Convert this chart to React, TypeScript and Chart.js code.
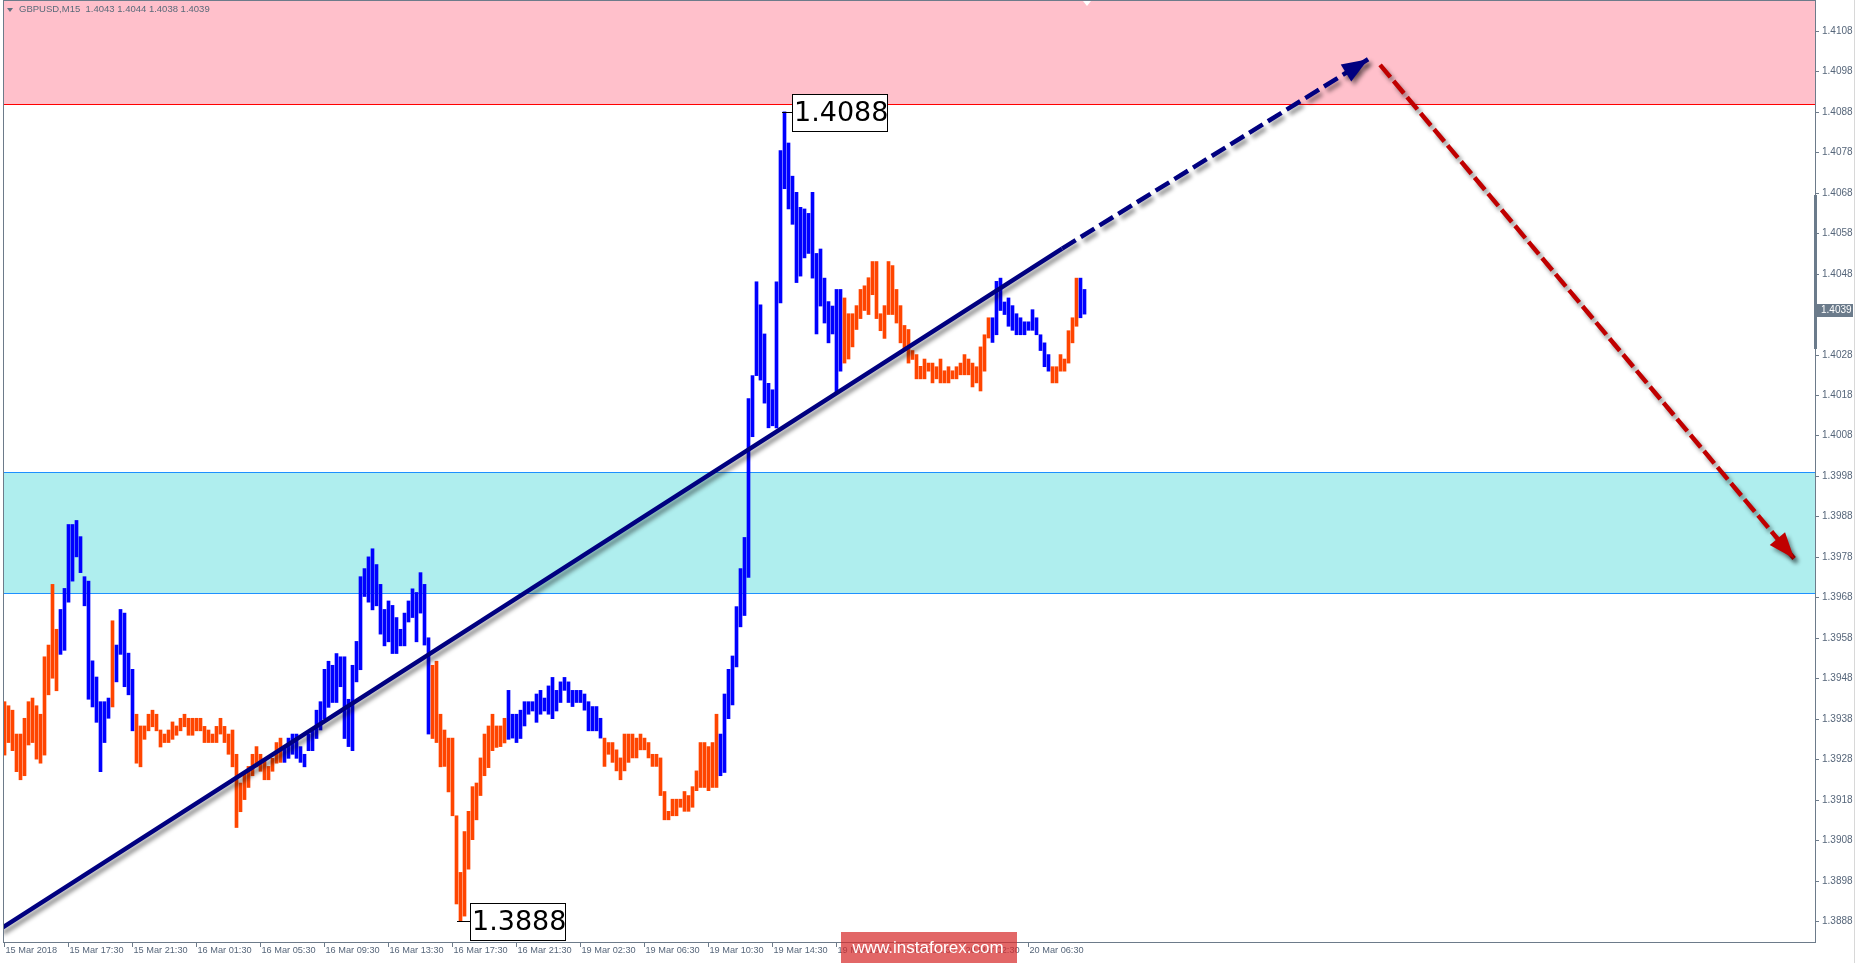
import React, { useEffect, useRef } from 'react';
import { Chart, registerables } from 'chart.js';

Chart.register(...registerables);

const W = 1857;
const H = 963;

const chartTitle = 'GBPUSD,M15  1.4043 1.4044 1.4038 1.4039';
const lastPrice = 1.4039;
const lastPriceLabel = '1.4039';
const watermark = 'www.instaforex.com';

// M15 bar lows / highs (bar index 0..270)
const lows = [
  1.39290, 1.39321, 1.39301, 1.39249, 1.39229, 1.39239, 1.39315, 1.39321, 1.39280, 1.39270,
  1.39290, 1.39439, 1.39480, 1.39449, 1.39539, 1.39549, 1.39668, 1.39720, 1.39780, 1.39741,
  1.39659, 1.39428, 1.39409, 1.39371, 1.39249, 1.39321, 1.39381, 1.39409, 1.39471, 1.39539,
  1.39459, 1.39439, 1.39350, 1.39270, 1.39261, 1.39329, 1.39350, 1.39360, 1.39350, 1.39310,
  1.39321, 1.39321, 1.39329, 1.39339, 1.39350, 1.39360, 1.39339, 1.39339, 1.39350, 1.39350,
  1.39321, 1.39321, 1.39321, 1.39321, 1.39342, 1.39321, 1.39292, 1.39261, 1.39111, 1.39150,
  1.39180, 1.39210, 1.39239, 1.39261, 1.39250, 1.39229, 1.39229, 1.39250, 1.39270, 1.39272,
  1.39272, 1.39282, 1.39292, 1.39282, 1.39272, 1.39261, 1.39301, 1.39301, 1.39331, 1.39352,
  1.39379, 1.39408, 1.39420, 1.39420, 1.39459, 1.39331, 1.39311, 1.39301, 1.39471, 1.39501,
  1.39682, 1.39668, 1.39649, 1.39659, 1.39589, 1.39560, 1.39570, 1.39541, 1.39541, 1.39560,
  1.39560, 1.39619, 1.39630, 1.39570, 1.39641, 1.39562, 1.39342, 1.39331, 1.39321, 1.39261,
  1.39262, 1.39199, 1.39140, 1.38922, 1.38880, 1.38892, 1.39008, 1.39081, 1.39130, 1.39190,
  1.39239, 1.39259, 1.39301, 1.39309, 1.39311, 1.39320, 1.39329, 1.39332, 1.39321, 1.39331,
  1.39362, 1.39391, 1.39399, 1.39371, 1.39391, 1.39399, 1.39391, 1.39380, 1.39399, 1.39420,
  1.39450, 1.39420, 1.39410, 1.39420, 1.39420, 1.39401, 1.39350, 1.39350, 1.39350, 1.39332,
  1.39262, 1.39292, 1.39272, 1.39251, 1.39229, 1.39251, 1.39272, 1.39283, 1.39283, 1.39303,
  1.39303, 1.39283, 1.39262, 1.39262, 1.39190, 1.39130, 1.39130, 1.39140, 1.39140, 1.39161,
  1.39151, 1.39151, 1.39161, 1.39202, 1.39210, 1.39210, 1.39202, 1.39210, 1.39210, 1.39239,
  1.39247, 1.39380, 1.39414, 1.39508, 1.39607, 1.39635, 1.39729, 1.40077, 1.40228, 1.40217,
  1.40160, 1.40099, 1.40104, 1.40099, 1.40408, 1.40690, 1.40640, 1.40602, 1.40458, 1.40474,
  1.40519, 1.40530, 1.40469, 1.40331, 1.40400, 1.40358, 1.40309, 1.40331, 1.40185, 1.40239,
  1.40259, 1.40269, 1.40299, 1.40342, 1.40369, 1.40389, 1.40379, 1.40428, 1.40369, 1.40339,
  1.40320, 1.40379, 1.40379, 1.40358, 1.40309, 1.40291, 1.40259, 1.40268, 1.40220, 1.40220,
  1.40220, 1.40239, 1.40210, 1.40220, 1.40210, 1.40210, 1.40210, 1.40220, 1.40220, 1.40230,
  1.40230, 1.40230, 1.40200, 1.40210, 1.40190, 1.40239, 1.40321, 1.40310, 1.40329, 1.40389,
  1.40379, 1.40350, 1.40340, 1.40329, 1.40329, 1.40329, 1.40340, 1.40340, 1.40329, 1.40290,
  1.40250, 1.40239, 1.40210, 1.40210, 1.40239, 1.40239, 1.40259, 1.40309, 1.40350, 1.40371,
  1.40380,
];

const highs = [
  1.39422, 1.39412, 1.39401, 1.39342, 1.39342, 1.39381, 1.39422, 1.39431, 1.39412, 1.39391,
  1.39533, 1.39562, 1.39712, 1.39601, 1.39650, 1.39702, 1.39860, 1.39860, 1.39870, 1.39830,
  1.39731, 1.39720, 1.39523, 1.39483, 1.39422, 1.39422, 1.39431, 1.39622, 1.39562, 1.39650,
  1.39641, 1.39542, 1.39502, 1.39391, 1.39362, 1.39362, 1.39391, 1.39401, 1.39391, 1.39352,
  1.39342, 1.39352, 1.39372, 1.39362, 1.39381, 1.39391, 1.39381, 1.39381, 1.39381, 1.39381,
  1.39361, 1.39352, 1.39342, 1.39361, 1.39381, 1.39361, 1.39342, 1.39352, 1.39292, 1.39221,
  1.39243, 1.39262, 1.39292, 1.39311, 1.39292, 1.39282, 1.39262, 1.39282, 1.39321, 1.39332,
  1.39311, 1.39332, 1.39342, 1.39342, 1.39311, 1.39292, 1.39342, 1.39352, 1.39401, 1.39422,
  1.39502, 1.39522, 1.39512, 1.39541, 1.39533, 1.39533, 1.39428, 1.39512, 1.39571, 1.39731,
  1.39751, 1.39780, 1.39800, 1.39761, 1.39712, 1.39650, 1.39671, 1.39660, 1.39630, 1.39601,
  1.39641, 1.39671, 1.39701, 1.39692, 1.39741, 1.39712, 1.39580, 1.39512, 1.39522, 1.39391,
  1.39352, 1.39332, 1.39332, 1.39140, 1.39000, 1.39101, 1.39151, 1.39212, 1.39221, 1.39283,
  1.39342, 1.39362, 1.39391, 1.39362, 1.39362, 1.39381, 1.39450, 1.39391, 1.39391, 1.39401,
  1.39422, 1.39422, 1.39422, 1.39441, 1.39450, 1.39431, 1.39461, 1.39482, 1.39450, 1.39471,
  1.39482, 1.39471, 1.39450, 1.39450, 1.39450, 1.39441, 1.39422, 1.39410, 1.39410, 1.39381,
  1.39332, 1.39321, 1.39321, 1.39303, 1.39283, 1.39342, 1.39342, 1.39342, 1.39332, 1.39342,
  1.39332, 1.39321, 1.39292, 1.39292, 1.39283, 1.39200, 1.39151, 1.39181, 1.39181, 1.39181,
  1.39200, 1.39190, 1.39212, 1.39251, 1.39321, 1.39321, 1.39311, 1.39321, 1.39391, 1.39342,
  1.39441, 1.39502, 1.39535, 1.39657, 1.39751, 1.39828, 1.40171, 1.40228, 1.40460, 1.40403,
  1.40331, 1.40209, 1.40193, 1.40460, 1.40784, 1.40880, 1.40803, 1.40721, 1.40681, 1.40644,
  1.40640, 1.40629, 1.40681, 1.40530, 1.40541, 1.40469, 1.40411, 1.40400, 1.40441, 1.40441,
  1.40420, 1.40381, 1.40381, 1.40401, 1.40441, 1.40450, 1.40470, 1.40510, 1.40510, 1.40381,
  1.40401, 1.40510, 1.40500, 1.40441, 1.40401, 1.40352, 1.40342, 1.40290, 1.40280, 1.40251,
  1.40269, 1.40259, 1.40259, 1.40250, 1.40269, 1.40240, 1.40250, 1.40240, 1.40250, 1.40259,
  1.40280, 1.40269, 1.40259, 1.40250, 1.40299, 1.40329, 1.40371, 1.40371, 1.40461, 1.40469,
  1.40410, 1.40420, 1.40401, 1.40381, 1.40371, 1.40361, 1.40361, 1.40391, 1.40371, 1.40329,
  1.40309, 1.40280, 1.40250, 1.40250, 1.40280, 1.40269, 1.40339, 1.40371, 1.40469, 1.40469,
  1.40441,
];

// u = blue wave bar, d = orange wave bar
const barSide = [
  'dddddddddd', 'dddduuuuuu', 'uuuuuuuduu', 'uuuddddddd', 'dddddddddd',
  'dddddddddd', 'dddddddddd', 'uuuuuuuuuu', 'uuuuuuuuuu', 'uuuuuuuuuu',
  'uuuuuuuddd', 'dddddddddd', 'dddddduuuu', 'uuuuuuuuuu', 'uuuuuuuuuu',
  'dddddddddd', 'dddddddddd', 'dddddddddu', 'uuuuuuuuuu', 'uuuuuuuuuu',
  'uuuuuuuuuu', 'dddddddddd', 'dddddddddd', 'dddddddddd', 'ddddddduuu',
  'uuuuuuuuuu', 'uuddddddduu',
].join('');

const timeLabels = [
  '15 Mar 2018', '15 Mar 17:30', '15 Mar 21:30', '16 Mar 01:30', '16 Mar 05:30',
  '16 Mar 09:30', '16 Mar 13:30', '16 Mar 17:30', '16 Mar 21:30', '19 Mar 02:30',
  '19 Mar 06:30', '19 Mar 10:30', '19 Mar 14:30', '19 Mar 18:30', '19 Mar 22:30',
  '20 Mar 02:30', '20 Mar 06:30',
];
const timeLabelBars = [0, 16, 32, 48, 64, 80, 96, 112, 128, 144, 160, 176, 192, 208, 224, 240, 256];

const priceTicks = [
  1.3888, 1.3898, 1.3908, 1.3918, 1.3928, 1.3938, 1.3948, 1.3958, 1.3968, 1.3978,
  1.3988, 1.3998, 1.4008, 1.4018, 1.4028, 1.4038, 1.4048, 1.4058, 1.4068, 1.4078,
  1.4088, 1.4098, 1.4108,
];
const priceTickLabels = [
  '1.3888', '1.3898', '1.3908', '1.3918', '1.3928', '1.3938', '1.3948', '1.3958', '1.3968', '1.3978',
  '1.3988', '1.3998', '1.4008', '1.4018', '1.4028', '1.4038', '1.4048', '1.4058', '1.4068', '1.4078',
  '1.4088', '1.4098', '1.4108',
];

const resistanceZone = [1.4090, 1.4116];
const supportZone = [1.3969, 1.3999];

// wave trend line (bar index, price)
const trendSolidX = [-1.1, 264.4];
const trendSolidY = [1.38860, 1.40542];
const trendDashX = [264.4, 340.9];
const trendDashY = [1.40542, 1.41010];
// forecast arrow
const forecastX = [343.9, 447.4];
const forecastY = [1.40996, 1.39776];

// extreme labels
const extremeBars = [195, 114];
const extremePrices = [1.4088, 1.3888];
const extremeTexts = ['1.4088', '1.3888'];

const BLUE = '#0000ff';
const ORANGE = '#ff4500';
const NAVY = '#000080';
const DARKRED = '#c00000';
const AXIS = '#6d7b8a';
const LABEL = '#56667a';

export default function App() {
  const ref = useRef<HTMLCanvasElement | null>(null);

  useEffect(() => {
    const canvas = ref.current;
    if (!canvas) return;
    document.body.style.margin = '0';

    const barData = lows.map((lo, i) => ({ x: i, y: [lo, highs[i]] }));
    const barColors = lows.map((_, i) => (barSide[i] === 'u' ? BLUE : ORANGE));
    const pts = (xs: number[], ys: number[]) => xs.map((x, i) => ({ x, y: ys[i] }));
    const boxOffsets = [7, 10];

    const zonesPlugin = {
      id: 'zones',
      beforeDatasetsDraw(chart: any) {
        const { ctx, chartArea: a, scales } = chart;
        const y = scales.y;
        ctx.save();
        const rBot = Math.round(y.getPixelForValue(resistanceZone[0]));
        ctx.fillStyle = '#ffc0cb';
        ctx.fillRect(a.left, a.top - 1, a.right - a.left, rBot - a.top + 1);
        ctx.fillStyle = '#ff0000';
        ctx.fillRect(a.left, rBot, a.right - a.left, 1);
        const sTop = Math.round(y.getPixelForValue(supportZone[1]));
        const sBot = Math.round(y.getPixelForValue(supportZone[0]));
        ctx.fillStyle = '#afeeee';
        ctx.fillRect(a.left, sTop, a.right - a.left, sBot - sTop);
        ctx.fillStyle = '#1e90ff';
        ctx.fillRect(a.left, sTop, a.right - a.left, 1);
        ctx.fillRect(a.left, sBot, a.right - a.left, 1);
        ctx.fillStyle = '#ffffff';
        ctx.beginPath();
        ctx.moveTo(1083, a.top);
        ctx.lineTo(1091, a.top);
        ctx.lineTo(1087, a.top + 5);
        ctx.closePath();
        ctx.fill();
        ctx.restore();
      },
    };

    const shadowPlugin = {
      id: 'shadows',
      beforeDatasetDraw(chart: any, args: any) {
        const ds = chart.data.datasets[args.index];
        if (ds.withShadow) {
          chart.ctx.save();
          chart.ctx.shadowColor = 'rgba(0,0,0,0.45)';
          chart.ctx.shadowBlur = 4;
          chart.ctx.shadowOffsetX = 3;
          chart.ctx.shadowOffsetY = 4;
        }
      },
      afterDatasetDraw(chart: any, args: any) {
        const ds = chart.data.datasets[args.index];
        if (ds.withShadow) chart.ctx.restore();
      },
    };

    const arrowHead = (ctx: any, x0: number, y0: number, x1: number, y1: number, color: string) => {
      const ang = Math.atan2(y1 - y0, x1 - x0);
      const len = 26;
      const half = 10;
      const bx = x1 - len * Math.cos(ang);
      const by = y1 - len * Math.sin(ang);
      ctx.save();
      ctx.shadowColor = 'rgba(0,0,0,0.45)';
      ctx.shadowBlur = 4;
      ctx.shadowOffsetX = 3;
      ctx.shadowOffsetY = 4;
      ctx.fillStyle = color;
      ctx.beginPath();
      ctx.moveTo(x1, y1);
      ctx.lineTo(bx + half * Math.sin(ang), by - half * Math.cos(ang));
      ctx.lineTo(bx - half * Math.sin(ang), by + half * Math.cos(ang));
      ctx.closePath();
      ctx.fill();
      ctx.restore();
    };

    const overlayPlugin = {
      id: 'overlay',
      afterDatasetsDraw(chart: any) {
        const { ctx, scales } = chart;
        const x = scales.x;
        const y = scales.y;
        {
          const x0 = x.getPixelForValue(trendDashX[0]);
          const y0 = y.getPixelForValue(trendDashY[0]);
          const x1 = x.getPixelForValue(trendDashX[1]);
          const y1 = y.getPixelForValue(trendDashY[1]);
          arrowHead(ctx, x0, y0, x1, y1, NAVY);
        }
        {
          const x0 = x.getPixelForValue(forecastX[0]);
          const y0 = y.getPixelForValue(forecastY[0]);
          const x1 = x.getPixelForValue(forecastX[1]);
          const y1 = y.getPixelForValue(forecastY[1]);
          arrowHead(ctx, x0, y0, x1, y1, DARKRED);
        }
        ctx.save();
        extremeBars.forEach((b, k) => {
          const px = Math.round(x.getPixelForValue(b));
          const py = Math.round(y.getPixelForValue(extremePrices[k]));
          const left = px + boxOffsets[k];
          ctx.strokeStyle = '#000000';
          ctx.lineWidth = 1;
          ctx.beginPath();
          ctx.moveTo(px - 3, py + 0.5);
          ctx.lineTo(left, py + 0.5);
          ctx.stroke();
          ctx.fillStyle = '#ffffff';
          ctx.fillRect(left, py - 18, 96, 38);
          ctx.strokeRect(left + 0.5, py - 17.5, 95, 37);
          ctx.fillStyle = '#000000';
          ctx.font = '27px "DejaVu Sans"';
          ctx.textBaseline = 'middle';
          ctx.textAlign = 'left';
          ctx.fillText(extremeTexts[k], left + 2, py + 2);
        });
        ctx.restore();
      },
      afterDraw(chart: any) {
        const { ctx, chartArea: a, scales } = chart;
        const x = scales.x;
        const y = scales.y;
        ctx.save();
        ctx.strokeStyle = AXIS;
        ctx.lineWidth = 1;
        ctx.strokeRect(3.5, 0.5, a.right - 3, a.bottom);
        ctx.fillStyle = '#d8d8d8';
        ctx.fillRect(1854, 0, 1, H);
        ctx.font = '10px "Liberation Sans"';
        ctx.textAlign = 'left';
        ctx.textBaseline = 'middle';
        priceTicks.forEach((p, i) => {
          const py = Math.round(y.getPixelForValue(p)) + 0.5;
          ctx.strokeStyle = AXIS;
          ctx.beginPath();
          ctx.moveTo(a.right, py);
          ctx.lineTo(a.right + 4, py);
          ctx.stroke();
          ctx.fillStyle = LABEL;
          ctx.fillText(priceTickLabels[i], a.right + 7, py);
        });
        ctx.font = '9.2px "Liberation Sans"';
        ctx.textBaseline = 'top';
        timeLabelBars.forEach((b, i) => {
          const px = Math.round(x.getPixelForValue(b)) - 0.5;
          ctx.strokeStyle = AXIS;
          ctx.beginPath();
          ctx.moveTo(px, a.bottom);
          ctx.lineTo(px, a.bottom + 5);
          ctx.stroke();
          ctx.fillStyle = LABEL;
          ctx.fillText(timeLabels[i], px + 1, a.bottom + 4);
        });
        ctx.fillStyle = '#6b7b8b';
        ctx.fillRect(a.right - 1, 195, 3, 154);
        const ly = Math.round(y.getPixelForValue(lastPrice));
        ctx.fillStyle = '#6b7b8b';
        ctx.fillRect(a.right, ly - 6, 38, 13);
        ctx.fillStyle = '#ffffff';
        ctx.font = '10px "Liberation Sans"';
        ctx.textBaseline = 'middle';
        ctx.fillText(lastPriceLabel, a.right + 6, ly + 0.5);
        ctx.fillStyle = '#5f6f7f';
        ctx.beginPath();
        ctx.moveTo(7, 8);
        ctx.lineTo(13, 8);
        ctx.lineTo(10, 12);
        ctx.closePath();
        ctx.fill();
        ctx.fillStyle = '#5a6a7a';
        ctx.font = '9.5px "Liberation Sans"';
        ctx.fillText(chartTitle, 19, 9.5);
        ctx.fillStyle = 'rgba(215,45,45,0.72)';
        ctx.fillRect(841, 932, 176, 31);
        ctx.fillStyle = '#ffffff';
        ctx.font = '17px "Liberation Sans"';
        ctx.textAlign = 'center';
        ctx.textBaseline = 'middle';
        ctx.fillText(watermark, 928, 948);
        ctx.restore();
      },
    };

    const chart = new Chart(canvas, {
      type: 'bar',
      data: {
        datasets: [
          { type: 'line', data: pts(trendSolidX, trendSolidY), borderColor: NAVY, borderWidth: 4.5, pointRadius: 0, order: 1, withShadow: true } as any,
          { type: 'line', data: pts(trendDashX, trendDashY), borderColor: NAVY, borderWidth: 4.5, borderDash: [16, 6], pointRadius: 0, order: 1, withShadow: true } as any,
          { type: 'line', data: pts(forecastX, forecastY), borderColor: DARKRED, borderWidth: 4.5, borderDash: [16, 5], pointRadius: 0, order: 1, withShadow: true } as any,
          { type: 'bar', data: barData as any, backgroundColor: barColors, borderWidth: 0, barThickness: 3, order: 5 } as any,
        ],
      },
      options: {
        animation: false,
        responsive: false,
        devicePixelRatio: 1,
        layout: { padding: { left: 4, top: 1, right: 42, bottom: 21 } },
        scales: {
          x: { type: 'linear', offset: false, bounds: 'data', min: -0.125, max: 452.625, display: false, grid: { offset: false } },
          y: { type: 'linear', min: 1.38828, max: 1.41154, display: false },
        },
        plugins: { legend: { display: false }, tooltip: { enabled: false } },
      } as any,
      plugins: [zonesPlugin, shadowPlugin, overlayPlugin],
    });

    return () => chart.destroy();
  }, []);

  return (
    <div style={{ position: 'absolute', left: 0, top: 0, width: W, height: H, background: '#ffffff' }}>
      <canvas ref={ref} width={W} height={H} style={{ width: W, height: H, display: 'block' }} />
    </div>
  );
}
